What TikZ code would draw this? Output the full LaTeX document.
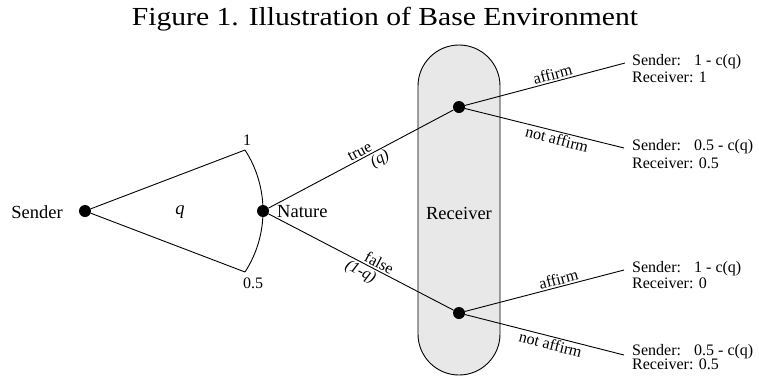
\documentclass[tikz,border=0pt]{standalone}
\usepackage{fontspec}
\setmainfont{Liberation Serif}
\begin{document}
\begin{tikzpicture}[x=1pt,y=-1pt,
  dot/.style={circle,fill=black,inner sep=0pt,minimum size=12pt},
  big/.style={font=\fontsize{18.5}{22}\selectfont,inner sep=0pt},
  lab/.style={font=\fontsize{16}{19}\selectfont,inner sep=1.5pt},
  pay/.style={font=\fontsize{16}{19}\selectfont,inner sep=0pt,anchor=base west},
  branch/.style={line width=0.9pt}]
\useasboundingbox (0,0) rectangle (759,376);

% title
\node[inner sep=0pt] (title) at (385,19)
  {\scalebox{1.14}[1]{\fontsize{26}{30}\selectfont Figure 1. Illustration of Base Environment}};

% receiver information set
\node[draw,line width=0.9pt,fill=gray!18,rounded corners=41pt,
      minimum width=82pt,minimum height=330pt] (recv) at (459,210) {};
\node[big] (recvlab) at (459,213) {Receiver};

% decision nodes
\node[dot] (snd) at (85,211) {};
\node[big,anchor=east] (sndlab) at (63,212) {Sender};
\node[dot] (nat) at (263,211) {};
\node[big,anchor=west] (natlab) at (277,212) {Nature};
\node[dot] (rtop) at (459,107) {};
\node[dot] (rbot) at (459,313) {};

% sender's choice of q
\coordinate (qhi) at (245,150);
\coordinate (qlo) at (245,272);
\draw[branch] (qhi) -- (snd) -- (qlo);
\draw[branch] (qhi) .. controls (269,187) and (269,235) .. (qlo);
\node[lab,inner sep=0pt] (one) at (247,140) {1};
\node[lab,inner sep=0pt] (half) at (253,283) {0.5};
\node[big] (qlab) at (180,212) {\textit{q}};

% nature's move
\draw[branch] (nat) -- node[lab,sloped,above,pos=0.51] (tl) {true}
  node[lab,sloped,below,pos=0.58] (tq) {\textit{(q)}} (rtop);
\draw[branch] (nat) -- node[lab,sloped,above,pos=0.58] (fl) {false}
  node[lab,sloped,below,pos=0.52] (fq) {\textit{(1-q)}} (rbot);

% receiver's choices and payoffs
\coordinate (e1) at (625,63);
\coordinate (e2) at (624,148);
\coordinate (e3) at (624,270);
\coordinate (e4) at (624,355);
\draw[branch] (rtop) -- node[lab,sloped,above,pos=0.56] (a1) {affirm} (e1);
\draw[branch] (rtop) -- node[lab,sloped,below,pos=0.59] (n1) {not affirm} (e2);
\draw[branch] (rbot) -- node[lab,sloped,above,pos=0.6] (a2) {affirm} (e3);
\draw[branch] (rbot) -- node[lab,sloped,below,pos=0.55] (n2) {not affirm} (e4);

\node[pay] (p1s) at (632,65) {Sender:};
\node[pay] (p1v) at (694,65) {1 - c(q)};
\node[pay] (p1r) at (632,82) {Receiver: 1};
\node[pay] (p2s) at (632,150) {Sender:};
\node[pay] (p2v) at (694,150) {0.5 - c(q)};
\node[pay] (p2r) at (632,168) {Receiver: 0.5};
\node[pay] (p3s) at (632,272) {Sender:};
\node[pay] (p3v) at (694,272) {1 - c(q)};
\node[pay] (p3r) at (632,288) {Receiver: 0};
\node[pay] (p4s) at (632,355) {Sender:};
\node[pay] (p4v) at (694,355) {0.5 - c(q)};
\node[pay] (p4r) at (632,369) {Receiver: 0.5};
\end{tikzpicture}
\end{document}
